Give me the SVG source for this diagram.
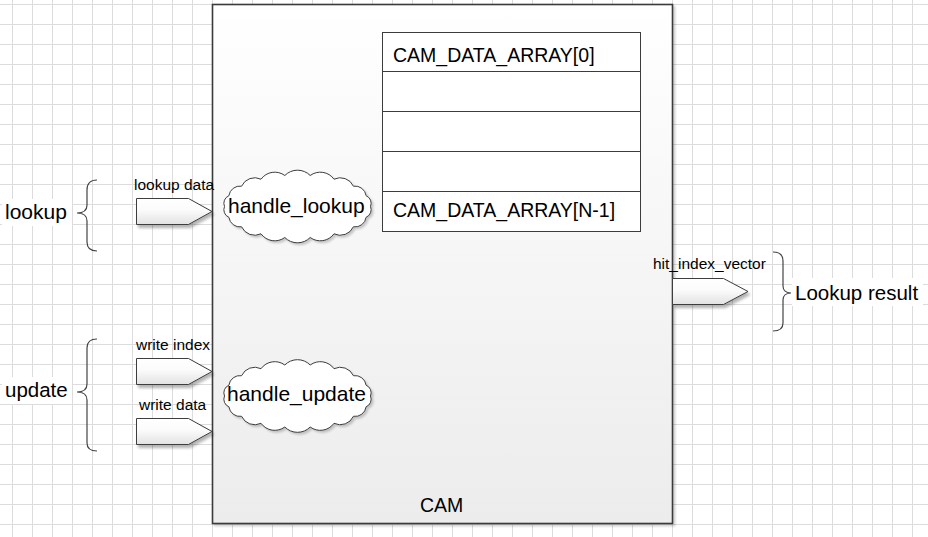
<svg xmlns="http://www.w3.org/2000/svg" width="928" height="537" viewBox="0 0 928 537">
<style>
  .t{font-family:"Liberation Sans",Arial,sans-serif;fill:#000}
  .lbl{font-size:15.5px}
  .big{font-size:21px}
  .tbl{font-size:19.5px}
  .brace{fill:none;stroke:#444;stroke-width:1.2}
  .arrow{fill:url(#arrowGrad);stroke:#3c3c3c;stroke-width:1;filter:url(#shadow)}
  .cloud{fill:#fff;stroke:#3c3c3c;stroke-width:1;filter:url(#shadowS)}
  .row{fill:none;stroke:#3c3c3c;stroke-width:1}
  .bg{fill:#fff}
</style>
<defs>
  <pattern id="grid" patternUnits="userSpaceOnUse" x="12" y="4" width="20" height="20">
    <rect x="0" y="0" width="20" height="20" fill="#fff"/>
    <rect x="0" y="0" width="1" height="20" fill="#dcdcdc"/>
    <rect x="0" y="0" width="20" height="1" fill="#dcdcdc"/>
  </pattern>
  <linearGradient id="boxGrad" x1="0" y1="0" x2="0" y2="1">
    <stop offset="0" stop-color="#ffffff"/>
    <stop offset="1" stop-color="#ececec"/>
  </linearGradient>
  <linearGradient id="arrowGrad" x1="0" y1="0" x2="0" y2="1">
    <stop offset="0" stop-color="#ffffff"/>
    <stop offset="0.45" stop-color="#fbfbfb"/>
    <stop offset="1" stop-color="#e2e2e2"/>
  </linearGradient>
  <filter id="shadow" x="-20%" y="-30%" width="150%" height="170%">
    <feGaussianBlur in="SourceAlpha" stdDeviation="1.5"/>
    <feOffset dx="2" dy="3" result="b"/>
    <feComponentTransfer><feFuncA type="linear" slope="0.3"/></feComponentTransfer>
    <feMerge><feMergeNode/><feMergeNode in="SourceGraphic"/></feMerge>
  </filter>
  <filter id="shadowS" x="-10%" y="-20%" width="130%" height="150%">
    <feGaussianBlur in="SourceAlpha" stdDeviation="1.2"/>
    <feOffset dx="1.5" dy="2" result="b"/>
    <feComponentTransfer><feFuncA type="linear" slope="0.2"/></feComponentTransfer>
    <feMerge><feMergeNode/><feMergeNode in="SourceGraphic"/></feMerge>
  </filter>
  <path id="cloudShape" d="M73,0 A8.2,8.2 0 0 1 68.6,10.8 A11.1,11.1 0 0 1 55.9,20.3 A14.4,14.4 0 0 1 36.5,27.3 A16.9,16.9 0 0 1 12.7,31 A17.8,17.8 0 0 1 -12.7,31 A16.9,16.9 0 0 1 -36.5,27.3 A14.4,14.4 0 0 1 -55.9,20.3 A11.1,11.1 0 0 1 -68.6,10.8 A8.2,8.2 0 0 1 -73,0 A8.2,8.2 0 0 1 -68.6,-10.8 A11.1,11.1 0 0 1 -55.9,-20.3 A14.4,14.4 0 0 1 -36.5,-27.3 A16.9,16.9 0 0 1 -12.7,-31 A17.8,17.8 0 0 1 12.7,-31 A16.9,16.9 0 0 1 36.5,-27.3 A14.4,14.4 0 0 1 55.9,-20.3 A11.1,11.1 0 0 1 68.6,-10.8 A8.2,8.2 0 0 1 73,0 Z"/>
</defs>

<rect x="0" y="0" width="928" height="537" fill="url(#grid)"/>

<g id="node-cam">
  <rect x="212.5" y="4.5" width="460" height="519" fill="url(#boxGrad)" stroke="#3a3a3a" stroke-width="1.6" filter="url(#shadowS)"/>
  <text class="t tbl" x="420" y="512">CAM</text>
</g>

<g id="node-cam-data-array">
  <rect x="382.5" y="32.5" width="258" height="199" fill="#fff" stroke="#3c3c3c" stroke-width="1"/>
  <line class="row" x1="382.5" y1="71.5" x2="640.5" y2="71.5"/>
  <line class="row" x1="382.5" y1="111.5" x2="640.5" y2="111.5"/>
  <line class="row" x1="382.5" y1="151.5" x2="640.5" y2="151.5"/>
  <line class="row" x1="382.5" y1="191.5" x2="640.5" y2="191.5"/>
  <text class="t tbl" x="393" y="62">CAM_DATA_ARRAY[0]</text>
  <text class="t tbl" x="393" y="217">CAM_DATA_ARRAY[N-1]</text>
</g>

<g id="node-handle-lookup">
  <use href="#cloudShape" class="cloud" transform="translate(297.5,206.5)"/>
  <text class="t big" x="228" y="213">handle_lookup</text>
</g>

<g id="node-handle-update">
  <use href="#cloudShape" class="cloud" transform="translate(297.5,396)"/>
  <text class="t big" x="227" y="401">handle_update</text>
</g>

<g id="node-lookup">
  <rect class="bg" x="2" y="199" width="70" height="27"/>
  <text class="t big" x="5" y="219">lookup</text>
</g>

<g id="node-update">
  <rect class="bg" x="2" y="377" width="70" height="27"/>
  <text class="t" style="font-size:20.5px" x="5" y="397">update</text>
</g>

<g id="node-lookup-result">
  <rect class="bg" x="792" y="278" width="131" height="28"/>
  <text class="t" style="font-size:20.5px" x="795" y="300">Lookup result</text>
</g>

<g id="node-lookup-data">
  <polygon class="arrow" points="136.5,198.5 188.5,198.5 212,211.5 188.5,224.5 136.5,224.5"/>
  <text class="t lbl" x="134" y="190">lookup data</text>
</g>

<g id="node-write-index">
  <polygon class="arrow" points="136.5,358.5 188.5,358.5 212,371.5 188.5,384.5 136.5,384.5"/>
  <text class="t lbl" x="136" y="350">write index</text>
</g>

<g id="node-write-data">
  <polygon class="arrow" points="136.5,418.5 188.5,418.5 212,431.5 188.5,444.5 136.5,444.5"/>
  <text class="t lbl" x="139" y="410">write data</text>
</g>

<g id="node-hit-index-vector">
  <polygon class="arrow" points="672.5,278.5 723.5,278.5 748,291.5 723.5,304.5 672.5,304.5"/>
  <text class="t lbl" x="653" y="269">hit_index_vector</text>
</g>

<g id="connectors">
  <path class="brace" d="M97,180 C90,180 87,183 87,190 L87,205 C87,210 84,213 77,213 C84,213 87,216 87,221 L87,242 C87,248 90,251 97,251"/>
  <path class="brace" d="M97,339 C90,339 87,342 87,348 L87,384 C87,389 84,392 77,392 C84,392 87,395 87,400 L87,443 C87,448 90,451 97,451"/>
  <path class="brace" d="M773,252 C780,252 783,255 783,261 L783,286 C783,290 786,293 791,293 C786,293 783,296 783,300 L783,323 C783,328 780,331 773,331"/>
</g>
</svg>
